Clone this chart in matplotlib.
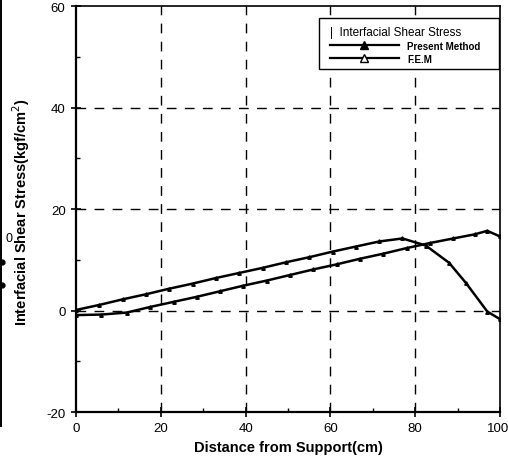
import matplotlib
matplotlib.use("Agg")
import matplotlib.pyplot as plt
from matplotlib.lines import Line2D
from matplotlib.patches import Rectangle
from matplotlib.ticker import MultipleLocator
from matplotlib.transforms import ScaledTranslation

plt.rcParams['font.family'] = ['Liberation Sans', 'DejaVu Sans']
plt.rcParams['axes.unicode_minus'] = False

# Data
x_pm = [0, 5.5, 11, 16.5, 22, 27.5, 33, 38.5, 44, 49.5, 55, 60.5, 66, 71.5, 77, 82.5, 88, 92, 97, 100]
y_pm = [0.1, 1.1, 2.2, 3.2, 4.3, 5.3, 6.4, 7.4, 8.4, 9.5, 10.5, 11.6, 12.6, 13.6, 14.2, 12.8, 9.4, 5.4, -0.2, -1.7]

x_fem = [0, 6, 12, 17.5, 23, 28.5, 34, 39.5, 45, 50.5, 56, 61.5, 67, 72.5, 78, 83.5, 89, 94, 97, 100]
y_fem = [-0.9, -0.8, -0.4, 0.7, 1.7, 2.7, 3.8, 4.9, 5.9, 7.0, 8.1, 9.1, 10.2, 11.2, 12.3, 13.3, 14.2, 15.0, 15.7, 14.6]

legend_title = "|  Interfacial Shear Stress"
labels = ["Present Method", "F.E.M"]
xlabel = "Distance from Support(cm)"
ylabel = "Interfacial Shear Stress(kgf/cm$^2$)"

fig = plt.figure(figsize=(5.08, 4.64), dpi=100)
ax = fig.add_axes([0.1496, 0.1099, 0.8346, 0.8750])

ax.plot(x_pm, y_pm, color='black', lw=1.8, marker='^', ms=2.5, mfc='black', mec='black')
ax.plot(x_fem, y_fem, color='black', lw=1.8, marker='^', ms=2.5, mfc='black', mec='black')

ax.set_xlim(0, 100)
ax.set_ylim(-20, 60)
ax.xaxis.set_major_locator(MultipleLocator(20))
ax.xaxis.set_minor_locator(MultipleLocator(10))
ax.yaxis.set_major_locator(MultipleLocator(20))
ax.yaxis.set_minor_locator(MultipleLocator(10))
ax.tick_params(which='major', direction='inout', length=7, width=1.2, labelsize=9.5, pad=4)
ax.tick_params(which='minor', direction='in', length=3, width=1.0)

for v in [20, 40, 60, 80]:
    ax.axvline(v, color='black', lw=1.0, ls=(0, (7, 6)), zorder=0)
for v in [0, 20, 40]:
    ax.axhline(v, color='black', lw=1.0, ls=(0, (7, 6)), zorder=0)

for s in ['left', 'bottom']:
    ax.spines[s].set_linewidth(1.6)
for s in ['right', 'top']:
    ax.spines[s].set_linewidth(1.2)

ax.set_xlabel(xlabel, fontsize=10.5, fontweight='bold', labelpad=4)
ax.set_ylabel(ylabel, fontsize=10.5, fontweight='bold')
ax.yaxis.set_label_coords(-0.103, 0.495)

# nudge the "100" tick label slightly left so it stays inside the figure
fig.canvas.draw()
for lab in ax.get_xticklabels():
    if lab.get_text() == '100':
        lab.set_transform(lab.get_transform() + ScaledTranslation(-2/100, 0, fig.dpi_scale_trans))

# legend frame (wider than the legend content, as in the reference)
frame = Rectangle((0.573, 0.845), 0.4245, 0.125, transform=ax.transAxes,
                  facecolor='white', edgecolor='black', lw=1.0, zorder=4)
ax.add_patch(frame)

handles = [
    Line2D([], [], color='black', lw=1.6, marker='^', ms=6, mfc='black'),
    Line2D([], [], color='black', lw=1.6, marker='^', ms=6, mfc='white'),
]
leg = ax.legend(handles, labels, loc='upper left',
                bbox_to_anchor=(0.599, 0.952), fontsize=7, handlelength=7.0,
                title=legend_title, title_fontsize=8.5, alignment='left',
                frameon=False, borderpad=0.05, labelspacing=0.3,
                handletextpad=0.9, borderaxespad=0.0)
leg.set_zorder(5)
for t in leg.get_texts():
    t.set_fontweight('bold')

# scan artifacts from neighbouring figure at the left edge
fig.add_artist(Line2D([1/508, 1/508], [1.0, 1 - 427/464], color='black', lw=1.4, transform=fig.transFigure))
fig.text(5/508, 1 - 239/464, "0", fontsize=9, ha='left', va='center')
for yy in [263, 286]:
    fig.add_artist(Line2D([2/508], [1 - yy/464], color='black', lw=0, marker='o', ms=3.5, transform=fig.transFigure))

fig.savefig("out.png", dpi=100)
